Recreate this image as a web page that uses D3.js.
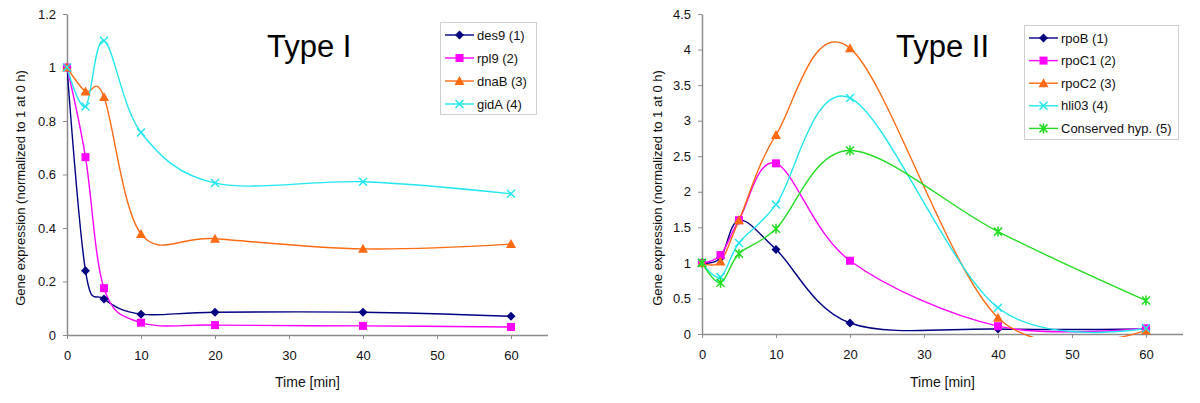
<!DOCTYPE html>
<html>
<head>
<meta charset="utf-8">
<script src="https://cdn.jsdelivr.net/npm/d3@7"></script>
<style>
  html, body { margin: 0; padding: 0; background: #fff; }
  svg { display: block; font-family: "Liberation Sans", Arial, sans-serif; }
  .axis path, .axis line { stroke: #8c8c8c; }
  .axis text { fill: #111; font-size: 13px; }
</style>
</head>
<body>
<svg id="chart" width="1200" height="403"></svg>
<script>
// time points (min)
const timePoints = [0, 2.5, 5, 10, 20, 40, 60];

// Type I series
const typeINames = ['des9', 'rpl9', 'dnaB', 'gidA'];
const des9 = [1, 0.24, 0.135, 0.078, 0.085, 0.085, 0.07];
const rpl9 = [1, 0.665, 0.175, 0.046, 0.037, 0.034, 0.03];
const dnaB = [1, 0.91, 0.89, 0.378, 0.36, 0.322, 0.34];
const gidA = [1, 0.854, 1.10, 0.757, 0.568, 0.573, 0.528];

// Type II series
const typeIINames = ['rpoB', 'rpoC1', 'rpoC2', 'hli03', 'Conserved hyp.'];
const rpoB = [1, 1.07, 1.6, 1.19, 0.155, 0.07, 0.07];
const rpoC1 = [1, 1.11, 1.6, 2.4, 1.03, 0.11, 0.08];
const rpoC2 = [1, 1.02, 1.6, 2.8, 4.02, 0.23, 0.05];
const hli03 = [1, 0.8, 1.28, 1.82, 3.32, 0.37, 0.08];
const conservedHyp = [1, 0.72, 1.13, 1.48, 2.58, 1.44, 0.47];

const yTicksI = [0, 0.2, 0.4, 0.6, 0.8, 1, 1.2];
const yTicksII = [0, 0.5, 1, 1.5, 2, 2.5, 3, 3.5, 4, 4.5];
const xTicks = [0, 10, 20, 30, 40, 50, 60];

const colors = ['#000080', '#ff00ff', '#ff6a13', '#22e6f0', '#22dd22'];
const markers = ['diamond', 'square', 'triangle', 'cross', 'star'];

const svg = d3.select('#chart');

drawChart({
  id: 'c1',
  left: 67, right: 548, top: 14, bottom: 335,
  yMax: 1.2, yTicks: yTicksI,
  title: 'Type I', titleX: 267,
  labelX: 21,
  names: typeINames,
  series: [des9, rpl9, dnaB, gidA],
  legend: { x: 440, y: 22, w: 96, h: 92, rowH: 23 }
});

drawChart({
  id: 'c2',
  left: 702, right: 1183, top: 14, bottom: 334,
  yMax: 4.5, yTicks: yTicksII,
  title: 'Type II', titleX: 896,
  labelX: 658,
  names: typeIINames,
  series: [rpoB, rpoC1, rpoC2, hli03, conservedHyp],
  legend: { x: 1024, y: 25, w: 154, h: 114, rowH: 22.6 }
});

function drawChart(cfg) {
  const x = d3.scaleLinear().domain([0, 65]).range([cfg.left, cfg.right]);
  const y = d3.scaleLinear().domain([0, cfg.yMax]).range([cfg.bottom, cfg.top]);
  const g = svg.append('g');

  g.append('defs').append('clipPath').attr('id', cfg.id + '-clip')
    .append('rect')
    .attr('x', cfg.left).attr('y', cfg.top - 10)
    .attr('width', cfg.right - cfg.left).attr('height', cfg.bottom - cfg.top + 13);

  g.append('g')
    .attr('class', 'axis')
    .attr('transform', `translate(0,${cfg.bottom})`)
    .call(d3.axisBottom(x).tickValues(xTicks).tickSize(4).tickPadding(12).tickSizeOuter(0))
    .call((a) => a.select('.domain').attr('d', `M${cfg.left},0.5H${cfg.right}`).attr('stroke-width', 1.5));

  g.append('g')
    .attr('class', 'axis')
    .attr('transform', `translate(${cfg.left},0)`)
    .call(d3.axisLeft(y).tickValues(cfg.yTicks).tickSize(4).tickPadding(7).tickSizeOuter(0)
      .tickFormat((d) => String(+d.toFixed(1))))
    .call((a) => a.select('.domain').attr('stroke-width', 1.5));

  g.selectAll('.axis .tick text').attr('font-size', 13);

  g.append('text')
    .attr('x', (cfg.left + cfg.right) / 2)
    .attr('y', 387)
    .attr('text-anchor', 'middle')
    .attr('font-size', 14)
    .attr('fill', '#111')
    .text('Time [min]');

  g.append('text')
    .attr('transform', `translate(${cfg.labelX + 4},188) rotate(-90)`)
    .attr('text-anchor', 'middle')
    .attr('font-size', 13)
    .attr('fill', '#111')
    .text('Gene expression (normalized to 1 at 0 h)');

  g.append('text')
    .attr('x', cfg.titleX)
    .attr('y', 57)
    .attr('font-size', 31)
    .attr('fill', '#000')
    .text(cfg.title);

  const line = d3.line()
    .x((d) => x(d[0]))
    .y((d) => y(d[1]))
    .curve(d3.curveCardinal.tension(0));

  const plot = g.append('g').attr('clip-path', `url(#${cfg.id}-clip)`);
  cfg.series.forEach((values, i) => {
    const pts = timePoints.map((t, k) => [t, values[k]]);
    plot.append('path')
      .attr('d', line(pts))
      .attr('fill', 'none')
      .attr('stroke', colors[i])
      .attr('stroke-width', 1.4);
  });
  cfg.series.forEach((values, i) => {
    timePoints.forEach((t, k) => {
      drawMarker(g, markers[i], x(t), y(values[k]), colors[i]);
    });
  });

  // legend
  const L = cfg.legend;
  const lg = g.append('g');
  lg.append('rect')
    .attr('x', L.x + 0.5).attr('y', L.y + 0.5)
    .attr('width', L.w).attr('height', L.h)
    .attr('fill', '#fff').attr('stroke', '#cfcfcf');
  cfg.names.forEach((name, i) => {
    const cy = L.y + 13 + i * L.rowH;
    lg.append('line')
      .attr('x1', L.x + 5).attr('x2', L.x + 34)
      .attr('y1', cy).attr('y2', cy)
      .attr('stroke', colors[i]).attr('stroke-width', 1.4);
    drawMarker(lg, markers[i], L.x + 19.5, cy, colors[i]);
    lg.append('text')
      .attr('x', L.x + 37)
      .attr('y', cy + 4.5)
      .attr('font-size', 13)
      .attr('fill', '#111')
      .text(`${name} (${i + 1})`);
  });
}

function drawMarker(parent, type, cx, cy, color) {
  const s = 4.5;
  if (type === 'diamond') {
    parent.append('path')
      .attr('d', `M${cx},${cy - s}L${cx + s},${cy}L${cx},${cy + s}L${cx - s},${cy}Z`)
      .attr('fill', color);
  } else if (type === 'square') {
    parent.append('rect')
      .attr('x', cx - 4).attr('y', cy - 4).attr('width', 8).attr('height', 8)
      .attr('fill', color);
  } else if (type === 'triangle') {
    parent.append('path')
      .attr('d', `M${cx},${cy - 5}L${cx + 5},${cy + 4}L${cx - 5},${cy + 4}Z`)
      .attr('fill', color);
  } else if (type === 'cross') {
    parent.append('path')
      .attr('d', `M${cx - 4},${cy - 4}L${cx + 4},${cy + 4}M${cx - 4},${cy + 4}L${cx + 4},${cy - 4}`)
      .attr('stroke', color).attr('stroke-width', 1.5).attr('fill', 'none');
  } else {
    parent.append('path')
      .attr('d', `M${cx - 4},${cy - 4}L${cx + 4},${cy + 4}M${cx - 4},${cy + 4}L${cx + 4},${cy - 4}M${cx},${cy - 5}L${cx},${cy + 5}`)
      .attr('stroke', color).attr('stroke-width', 1.5).attr('fill', 'none');
  }
}
</script>
</body>
</html>
